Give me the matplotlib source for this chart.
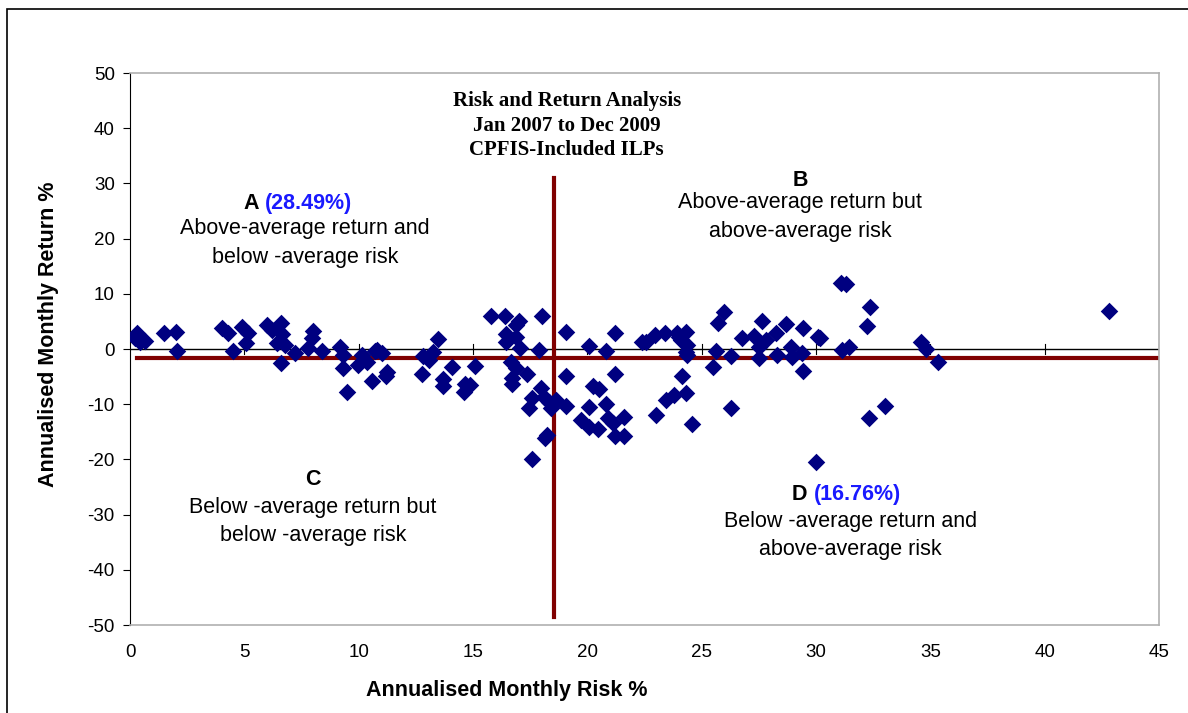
import matplotlib
matplotlib.use("Agg")
import matplotlib.pyplot as plt
from matplotlib.patches import Rectangle

plt.rcParams["axes.unicode_minus"] = False

# Risk (x) and return (y) of each fund
risk = [
    0.22, 0.44, 0.66, 0.31, 1.48, 2.0, 2.05, 4.02, 4.28, 4.5,
    4.89, 5.15, 5.07, 5.98, 6.2, 6.6, 6.64, 6.42, 6.77, 6.6,
    7.2, 7.77, 7.99, 7.95, 8.38, 9.17, 9.3, 9.3, 9.48, 10.13,
    9.96, 10.35, 10.6, 10.7, 10.79, 11.0, 11.22, 11.18, 13.45, 12.8,
    13.23, 13.06, 12.75, 14.1, 15.07, 13.67, 13.67, 14.63, 14.85, 14.59,
    15.8, 16.38, 16.9, 17.03, 16.46, 16.9, 16.46, 17.07, 18.03, 17.9,
    16.68, 16.9, 17.38, 16.72, 16.72, 17.99, 17.6, 17.47, 18.12, 18.34,
    18.43, 18.65, 18.25, 18.17, 17.6, 19.08, 19.08, 19.08, 20.09, 20.83,
    21.22, 21.22, 20.26, 20.52, 20.09, 20.83, 19.74, 20.09, 20.48, 20.92,
    21.14, 21.22, 21.62, 21.62, 22.4, 22.58, 22.97, 23.41, 23.93, 24.32,
    24.1, 24.37, 24.32, 24.37, 24.02, 25.98, 25.72, 25.63, 26.29, 25.5,
    24.15, 24.32, 23.8, 23.45, 23.01, 24.59, 26.29, 27.64, 28.69, 26.77,
    27.29, 27.82, 28.25, 27.51, 27.51, 28.3, 28.9, 28.95, 29.43, 30.09,
    30.17, 29.39, 29.43, 30.0, 31.09, 31.31, 32.36, 32.23, 31.14, 31.44,
    34.59, 34.8, 35.33, 42.8, 33.01, 32.31,
]
ret = [
    2.0, 1.27, 1.45, 2.9, 2.9, 3.1, -0.36, 3.8, 2.9, -0.36,
    4.0, 2.9, 1.1, 4.35, 3.4, 4.7, 2.7, 1.1, 0.72, -2.5,
    -0.72, 0.18, 3.26, 2.0, -0.36, 0.36, -1.1, -3.4, -7.8, -1.1,
    -2.9, -2.35, -5.8, -0.36, -0.18, -0.72, -4.2, -4.9, 1.8, -1.27,
    -0.54, -2.0, -4.5, -3.26, -3.1, -5.4, -6.7, -6.3, -6.5, -7.8,
    6.0, 6.0, 4.35, 5.07, 2.7, 2.2, 1.27, 0.18, 6.0, -0.18,
    -2.35, -3.4, -4.5, -5.25, -6.3, -7.07, -8.9, -10.7, -8.7, -9.6,
    -10.7, -9.2, -15.6, -16.1, -19.9, 3.1, -4.9, -10.3, 0.54, -0.36,
    2.9, -4.5, -6.7, -7.25, -10.5, -10.0, -12.9, -14.1, -14.5, -12.5,
    -13.4, -15.8, -15.8, -12.3, 1.27, 1.27, 2.5, 2.9, 2.9, 3.1,
    1.6, 0.72, -0.54, -1.1, 2.2, 6.7, 4.7, -0.36, -1.27, -3.26,
    -4.9, -8.0, -8.3, -9.2, -12.0, -13.6, -10.7, 5.07, 4.5, 2.0,
    2.35, 1.6, 2.9, 0.36, -1.6, -1.1, 0.36, -1.45, 3.8, 2.2,
    2.0, -0.72, -4.0, -20.5, 12.0, 11.8, 7.6, 4.2, -0.18, 0.36,
    1.27, 0.0, -2.35, 6.9, -10.3, -12.5,
]

# average risk / return lines
avg_risk = 18.56
avg_ret = -1.6
avg_risk_span = [-48.5, 31.0]
avg_ret_span = [0.3, 44.9]

x_ticks = [0, 5, 10, 15, 20, 25, 30, 35, 40, 45]
y_ticks = [-50, -40, -30, -20, -10, 0, 10, 20, 30, 40, 50]

title_lines = "Risk and Return Analysis\nJan 2007 to Dec 2009\nCPFIS-Included ILPs"

SANS = ["Liberation Sans", "DejaVu Sans"]
SERIF = ["Liberation Serif", "DejaVu Serif"]
MARKER_COLOR = "#000080"
LINE_COLOR = "#800000"
BLUE = "#1a1aff"
QFONT = 15.5

fig = plt.figure(figsize=(11.88, 7.13), dpi=100)
ax = fig.add_axes([130 / 1188, 1 - 625 / 713, 1029 / 1188, 552 / 713])

# outer chart frame (only left & top visible in the crop)
fig.patches.append(Rectangle((7 / 1188, -0.05), 1.2, 1.05 - 9 / 713,
                             transform=fig.transFigure, fill=False,
                             edgecolor="black", linewidth=1.2))

ax.scatter(risk, ret, marker="D", s=80, color=MARKER_COLOR, zorder=3,
           linewidths=0)
ax.plot([avg_risk, avg_risk], avg_risk_span, color=LINE_COLOR, lw=3, zorder=2)
ax.plot(avg_ret_span, [avg_ret, avg_ret], color=LINE_COLOR, lw=3, zorder=2)

ax.set_xlim(0, 45)
ax.set_ylim(-50, 50)
ax.set_xticks(x_ticks)
ax.set_yticks(y_ticks)

for side in ["top", "right", "bottom"]:
    ax.spines[side].set_color("#b0b0b0")
    ax.spines[side].set_linewidth(1.2)
ax.spines["left"].set_color("black")

# x axis line at y = 0 with tick marks
ax.axhline(0, color="black", lw=1, zorder=1)
for t in x_ticks[1:]:
    ax.plot([t, t], [-0.9, 0.9], color="black", lw=0.8, zorder=1)

ax.tick_params(axis="x", length=0, pad=14, labelsize=13.5)
ax.tick_params(axis="y", direction="out", length=5, pad=6, labelsize=13.5)
for lab in ax.get_xticklabels() + ax.get_yticklabels():
    lab.set_family(SANS)

ax.set_xlabel("Annualised Monthly Risk %", fontsize=QFONT, fontweight="bold",
              family=SANS)
ax.xaxis.set_label_coords(0.366, -0.10)
ax.set_ylabel("Annualised Monthly Return %", fontsize=QFONT, fontweight="bold",
              family=SANS)
ax.yaxis.set_label_coords(-0.069, 0.527)

ax.text(19.1, 40.4, title_lines, ha="center", va="center", fontsize=15,
        fontweight="bold", family=SERIF, linespacing=1.3)

q_kw = dict(ha="center", va="center", fontsize=QFONT, family=SANS,
            linespacing=1.45)
lab_kw = dict(va="center", fontsize=QFONT, fontweight="bold", family=SANS)

# quadrant A
ax.text(5.9, 26.4, "A ", ha="right", **lab_kw)
ax.text(5.9, 26.4, "(28.49%)", ha="left", color=BLUE, **lab_kw)
ax.text(7.65, 19.2, "Above-average return and\nbelow -average risk", **q_kw)

# quadrant B
ax.text(29.3, 30.6, "B", ha="center", **lab_kw)
ax.text(29.3, 23.9, "Above-average return but\nabove-average risk", **q_kw)

# quadrant C
ax.text(8.0, -23.7, "C", ha="center", **lab_kw)
ax.text(8.0, -31.2, "Below -average return but\nbelow -average risk", **q_kw)

# quadrant D
ax.text(29.9, -26.4, "D ", ha="right", **lab_kw)
ax.text(29.9, -26.4, "(16.76%)", ha="left", color=BLUE, **lab_kw)
ax.text(31.5, -33.8, "Below -average return and\nabove-average risk", **q_kw)

fig.savefig("out.png", dpi=100)
